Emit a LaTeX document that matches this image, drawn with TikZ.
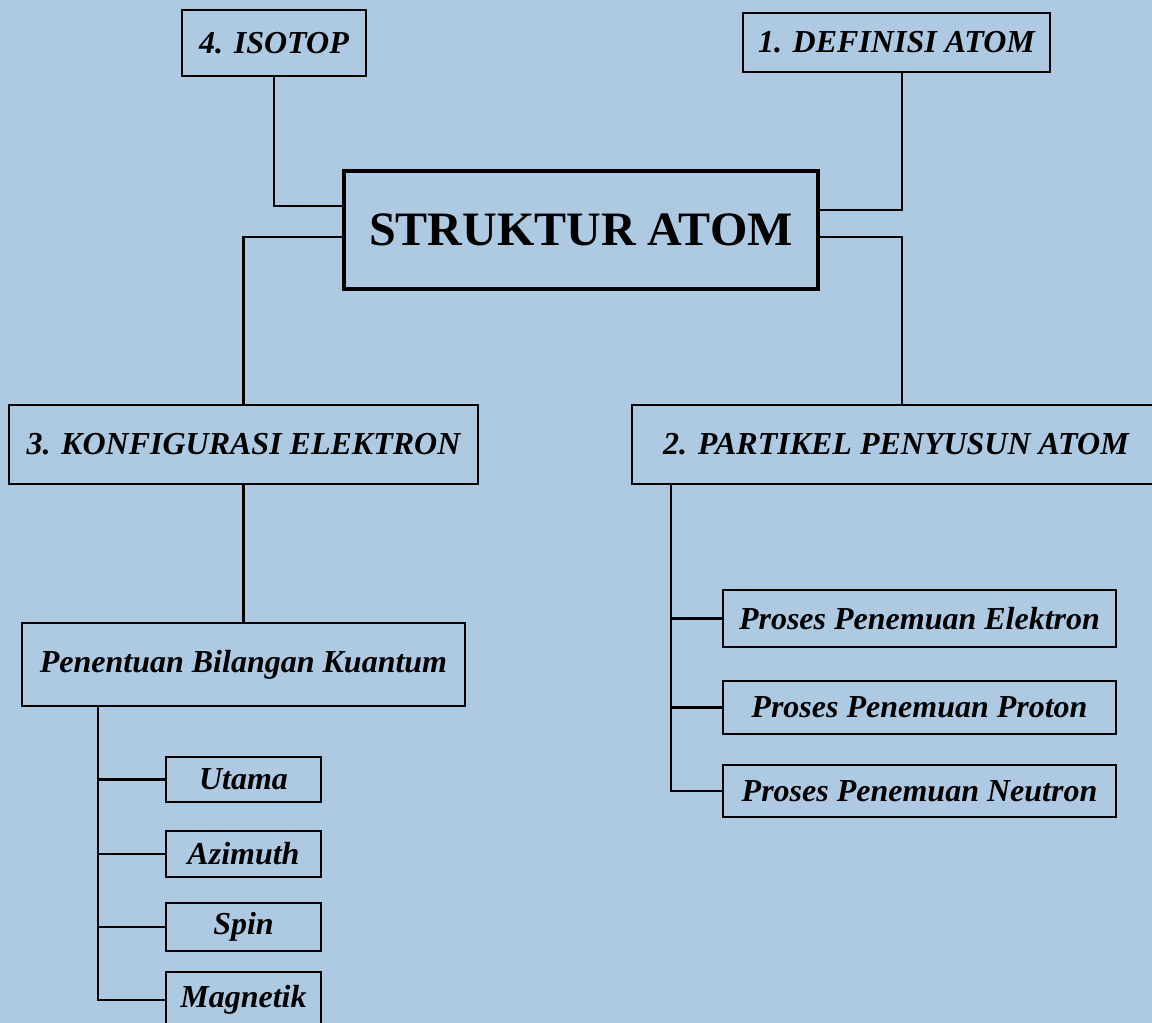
\documentclass[tikz,border=0pt]{standalone}
\usepackage{fontspec}
\setmainfont{Liberation Serif}
\definecolor{bgblue}{RGB}{174,202,227}
\tikzset{
  box/.style={draw, line width=1.6pt, inner sep=0pt, align=center,
    font=\fontsize{24}{29}\selectfont\bfseries\itshape},
  mainbox/.style={draw, line width=3pt, inner sep=0pt,
    font=\fontsize{36}{42}\selectfont\bfseries},
  link/.style={line width=1.6pt}
}
\begin{document}
\begin{tikzpicture}[x=0.75pt, y=-0.75pt]
    % page and background
    \useasboundingbox (0,0) rectangle (1152,1023);
    \clip (0,0) rectangle (1152,1023);
    \fill[bgblue] (0,0) rectangle (1152,1023);

    % centre
    \node[mainbox, minimum width=355.5pt, minimum height=88.5pt] (struktur) at (581,230) {STRUKTUR ATOM};

    % the four topics
    \node[box, minimum width=138pt, minimum height=49.5pt] (isotop) at (274,43) {4. ISOTOP};
    \node[box, minimum width=230.25pt, minimum height=44.25pt] (defatom) at (896.5,42.5) {1. DEFINISI ATOM};
    \node[box, minimum width=351.75pt, minimum height=59.25pt] (konfig) at (243.5,444.5) {3. KONFIGURASI ELEKTRON};
    \node[box, minimum width=396pt, minimum height=59.25pt] (partikel) at (896,444.5) {2. PARTIKEL PENYUSUN ATOM};

    % under konfigurasi
    \node[box, minimum width=332.25pt, minimum height=62.25pt] (penentuan) at (243.5,664.5) {Penentuan Bilangan Kuantum};
    \node[box, minimum width=116.25pt, minimum height=33.75pt] (utama) at (243.5,779.5) {Utama};
    \node[box, minimum width=116.25pt, minimum height=34.5pt] (azimuth) at (243.5,854) {Azimuth};
    \node[box, minimum width=116.25pt, minimum height=36pt] (spin) at (243.5,927) {Spin};
    \node[box, minimum width=116.25pt, minimum height=42pt] (magnetik) at (243.5,1000) {Magnetik};

    % under partikel
    \node[box, minimum width=294.75pt, minimum height=42.75pt] (elektron) at (919.5,618.5) {Proses Penemuan Elektron};
    \node[box, minimum width=294.75pt, minimum height=39.75pt] (proton) at (919.5,707.5) {Proses Penemuan Proton};
    \node[box, minimum width=294.75pt, minimum height=39pt] (neutron) at (919.5,791) {Proses Penemuan Neutron};

    % links from the centre
    \draw[link] (isotop.south) |- (struktur.west |- 0,206);
    \draw[link] (struktur.west |- 0,237) -| (konfig.north);
    \draw[link] (struktur.east |- 0,210) -| (defatom.south -| 902,0);
    \draw[link] (struktur.east |- 0,237) -| (partikel.north -| 902,0);

    % links down the left
    \draw[link] (konfig.south) -- (penentuan.north);
    \draw[link] (penentuan.south -| 98,0) |- (magnetik.west);
    \foreach \n in {utama,azimuth,spin}
        \draw[link] (\n.west) -- (\n.west -| 98,0);

    % links down the right
    \draw[link] (partikel.south -| 671,0) |- (neutron.west);
    \foreach \n in {elektron,proton}
        \draw[link] (\n.west) -- (\n.west -| 671,0);

\end{tikzpicture}
\end{document}
